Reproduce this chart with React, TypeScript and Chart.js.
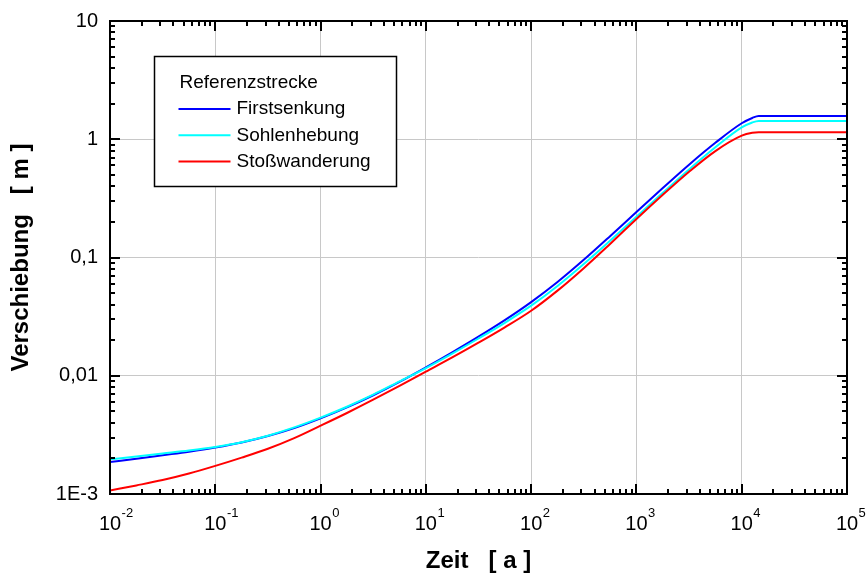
import React, { useEffect, useRef } from 'react';
import { Chart, registerables } from 'chart.js';

Chart.register(...registerables);

// ---- data ----
const times = [
  0.01, 0.0178, 0.0316, 0.0562, 0.1, 0.178, 0.316, 0.562, 1, 1.78, 3.16, 5.62, 10, 17.8, 31.6, 56.2,
  100, 178, 316, 562, 1000, 1780, 3160, 5620, 10000, 12600, 14500, 100000,
];
const firstsenkung = [
  0.001862, 0.001984, 0.002126, 0.002278, 0.002469, 0.002723, 0.00309, 0.00361, 0.004365, 0.005401,
  0.006839, 0.008861, 0.01175, 0.01576, 0.02138, 0.02951, 0.04193, 0.062, 0.0955, 0.1514, 0.2427,
  0.3869, 0.6095, 0.9333, 1.365, 1.514, 1.574, 1.574,
];
const sohlenhebung = [
  0.001963, 0.00208, 0.002203, 0.002333, 0.0025, 0.002742, 0.003112, 0.003656, 0.004421, 0.00547,
  0.006918, 0.008964, 0.01161, 0.0154, 0.02065, 0.02805, 0.03913, 0.05747, 0.0881, 0.1387, 0.2213,
  0.3527, 0.5559, 0.8551, 1.259, 1.387, 1.429, 1.429,
];
const stosswanderung = [
  0.001072, 0.001182, 0.001311, 0.001488, 0.001728, 0.00203, 0.002413, 0.002968, 0.00378, 0.004842,
  0.006273, 0.008222, 0.01084, 0.01429, 0.01905, 0.0257, 0.03548, 0.05248, 0.08128, 0.1303, 0.2113,
  0.3388, 0.5309, 0.7943, 1.072, 1.135, 1.148, 1.148,
];

const seriesNames = ['Firstsenkung', 'Sohlenhebung', 'Stoßwanderung'];
const seriesColors = ['#0000ff', '#00ffff', '#ff0000'];
const legendTitle = 'Referenzstrecke';

const xExponents = [-2, -1, 0, 1, 2, 3, 4, 5];
const yTickValues = [0.001, 0.01, 0.1, 1, 10];
const yTickLabels = ['1E-3', '0,01', '0,1', '1', '10'];

const xTitle = 'Zeit   [ a ]';
const yTitle = 'Verschiebung   [ m ]';

const FONT = "'Liberation Sans', Arial, Helvetica, sans-serif";

const decorPlugin = {
  id: 'decor',
  afterDraw(chart: any) {
    const ctx = chart.ctx as CanvasRenderingContext2D;
    const { left, right, top, bottom } = chart.chartArea;
    const xs = chart.scales.x;
    const ys = chart.scales.y;
    ctx.save();
    ctx.strokeStyle = '#000';
    ctx.lineWidth = 2;
    const seg = (x1: number, y1: number, x2: number, y2: number) => {
      ctx.beginPath();
      ctx.moveTo(x1, y1);
      ctx.lineTo(x2, y2);
      ctx.stroke();
    };
    const major = 10;
    const minor = 5;
    // x ticks (inward, bottom and top)
    const xmin = Math.round(Math.log10(xs.min));
    const xmax = Math.round(Math.log10(xs.max));
    for (let e = xmin; e <= xmax; e++) {
      for (let k = 1; k <= 9; k++) {
        const v = k * Math.pow(10, e);
        if (v > xs.max * 1.0001) break;
        const p = Math.round(xs.getPixelForValue(v));
        const len = k === 1 ? major : minor;
        seg(p, bottom, p, bottom - len);
        seg(p, top, p, top + len);
      }
    }
    // y ticks (inward, left and right)
    const ymin = Math.round(Math.log10(ys.min));
    const ymax = Math.round(Math.log10(ys.max));
    for (let e = ymin; e <= ymax; e++) {
      for (let k = 1; k <= 9; k++) {
        const v = k * Math.pow(10, e);
        if (v > ys.max * 1.0001) break;
        const p = Math.round(ys.getPixelForValue(v));
        const len = k === 1 ? major : minor;
        seg(left, p, left + len, p);
        seg(right, p, right - len, p);
      }
    }
    // frame
    ctx.strokeRect(left, top, right - left, bottom - top);

    // x tick labels: 10 with superscript exponent
    ctx.fillStyle = '#000';
    ctx.textBaseline = 'alphabetic';
    xExponents.forEach((e) => {
      const p = xs.getPixelForValue(Math.pow(10, e));
      ctx.font = `20px ${FONT}`;
      const w = ctx.measureText('10').width;
      ctx.textAlign = 'left';
      ctx.fillText('10', p - w / 2, bottom + 36);
      ctx.font = `13px ${FONT}`;
      ctx.fillText(String(e), p + w / 2 + 0.5, bottom + 23);
    });

    // legend box
    const bx = left + 44.5;
    const by = top + 35.5;
    const bw = 242;
    const bh = 130;
    ctx.fillStyle = '#fff';
    ctx.fillRect(bx, by, bw, bh);
    ctx.lineWidth = 1.5;
    ctx.strokeStyle = '#000';
    ctx.strokeRect(bx, by, bw, bh);
    ctx.fillStyle = '#000';
    ctx.font = `19px ${FONT}`;
    ctx.textAlign = 'left';
    ctx.textBaseline = 'middle';
    ctx.fillText(legendTitle, bx + 25, by + 26);
    chart.data.datasets.forEach((ds: any, i: number) => {
      const yy = by + 52.5 + i * 26.3;
      ctx.strokeStyle = ds.borderColor;
      ctx.lineWidth = 2;
      seg(bx + 24, yy, bx + 76, yy);
      ctx.fillStyle = '#000';
      ctx.fillText(ds.label, bx + 82, yy);
    });
    ctx.restore();
  },
};

export default function App() {
  const ref = useRef<HTMLCanvasElement | null>(null);
  useEffect(() => {
    if (!ref.current) return;
    const mk = (vals: number[]) => times.map((t, i) => ({ x: t, y: vals[i] }));
    const allSeries = [firstsenkung, sohlenhebung, stosswanderung];
    const chart = new Chart(ref.current, {
      type: 'line',
      data: {
        datasets: allSeries.map((vals, i) => ({
          label: seriesNames[i],
          data: mk(vals),
          borderColor: seriesColors[i],
          backgroundColor: seriesColors[i],
          borderWidth: 2,
          pointRadius: 0,
          fill: false,
          cubicInterpolationMode: 'monotone' as const,
          order: 3 - i,
        })),
      },
      options: {
        animation: false,
        responsive: false,
        devicePixelRatio: 1,
        layout: { padding: { top: 21, right: 20, bottom: 0, left: 0 } },
        plugins: {
          legend: { display: false },
          tooltip: { enabled: false },
        },
        scales: {
          x: {
            type: 'logarithmic',
            min: 0.01,
            max: 100000,
            afterBuildTicks: (scale: any) => {
              scale.ticks = xExponents.map((e) => ({ value: Math.pow(10, e), major: true }));
            },
            afterFit: (scale: any) => {
              scale.height = 82;
              scale.paddingLeft = 0;
              scale.paddingRight = 0;
            },
            ticks: { display: false },
            grid: { color: '#c8c8c8', lineWidth: 1, drawTicks: false },
            border: { display: false },
            title: {
              display: true,
              text: xTitle,
              color: '#000',
              font: { family: FONT, size: 24, weight: 'bold' },
              padding: { top: 0, bottom: 0 },
            },
          },
          y: {
            type: 'logarithmic',
            min: 0.001,
            max: 10,
            afterBuildTicks: (scale: any) => {
              scale.ticks = yTickValues.map((v) => ({ value: v, major: true }));
            },
            afterFit: (scale: any) => {
              scale.width = 110;
              scale.paddingTop = 0;
              scale.paddingBottom = 0;
            },
            ticks: {
              color: '#000',
              padding: 12,
              font: { family: FONT, size: 20 },
              callback: (v: any) => {
                const idx = yTickValues.findIndex((t) => Math.abs(Math.log10(t) - Math.log10(Number(v))) < 1e-6);
                return idx >= 0 ? yTickLabels[idx] : '';
              },
            },
            grid: { color: '#c8c8c8', lineWidth: 1, drawTicks: false },
            border: { display: false },
            title: {
              display: true,
              text: yTitle,
              color: '#000',
              font: { family: FONT, size: 24, weight: 'bold' },
              padding: { top: 7, bottom: 0 },
            },
          },
        },
      },
      plugins: [decorPlugin],
    } as any);
    return () => chart.destroy();
  }, []);
  return (
    <div style={{ position: 'fixed', left: 0, top: 0, width: 867, height: 576, background: '#fff' }}>
      <canvas ref={ref} width={867} height={576} style={{ display: 'block' }} />
    </div>
  );
}
